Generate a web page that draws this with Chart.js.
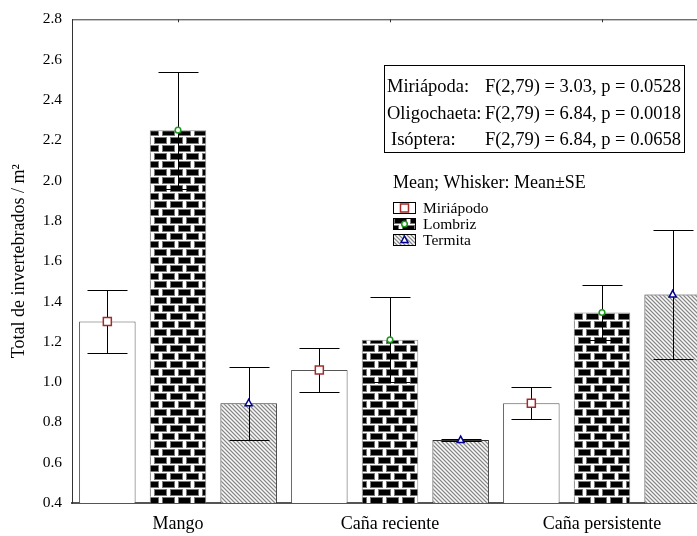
<!DOCTYPE html>
<html>
<head>
<meta charset="utf-8">
<script src="https://cdn.jsdelivr.net/npm/chart.js@4.4.0/dist/chart.umd.min.js"></script>
<style>
  body { margin: 0; background: #fff; }
  #wrap { width: 697px; height: 536px; overflow: hidden; }
</style>
</head>
<body>
<div id="wrap"><canvas id="chart" width="712" height="536"></canvas></div>
<script>
// Datos
const categories = ['Mango', 'Caña reciente', 'Caña persistente'];
const miriapodo = [1.30, 1.06, 0.895];
const miriapodoSE = [0.157, 0.11, 0.079];
const lombriz = [2.25, 1.21, 1.345];
const lombrizSE = [0.29, 0.21, 0.137];
const termita = [0.895, 0.712, 1.435];
const termitaSE = [0.182, 0.004, 0.32];
const yMin = 0.4, yMax = 2.8, yStep = 0.2;
const statLabels = ['Miriápoda:', 'Oligochaeta:', 'Isóptera:'];
const statValues = ['F(2,79) = 3.03, p = 0.0528', 'F(2,79) = 6.84, p = 0.0018', 'F(2,79) = 6.84, p = 0.0658'];

const serif = '"Liberation Serif", "Times New Roman", serif';
Chart.defaults.font.family = serif;
Chart.defaults.color = '#000';

// patrones
function brickPattern() {
  const c = document.createElement('canvas');
  c.width = 16; c.height = 16;
  const g = c.getContext('2d');
  g.fillStyle = '#fff';
  g.fillRect(0, 0, 16, 16);
  for (let r = 0; r < 2; r++) {
    const y0 = r * 8, off = r * 8;
    for (const dx of [off - 16, off]) {
      g.fillStyle = '#777';
      g.fillRect(dx + 2, y0 + 1, 13, 7);
      g.fillStyle = '#000';
      g.fillRect(dx + 3, y0 + 2, 11, 5);
    }
  }
  return g.createPattern(c, 'repeat');
}
function hatchPattern() {
  const c = document.createElement('canvas');
  c.width = 4; c.height = 4;
  const g = c.getContext('2d');
  const img = g.createImageData(4, 4);
  const shades = [135, 205, 250, 205];
  for (let y = 0; y < 4; y++) for (let x = 0; x < 4; x++) {
    const v = shades[(x - y + 8) % 4], k = (y * 4 + x) * 4;
    img.data[k] = img.data[k + 1] = img.data[k + 2] = v;
    img.data[k + 3] = 255;
  }
  g.putImageData(img, 0, 0);
  return g.createPattern(c, 'repeat');
}
const brick = brickPattern();
const hatch = hatchPattern();

const seLists = [miriapodoSE, lombrizSE, termitaSE];
const markers = [
  { shape: 'square', color: '#a52a2a' },
  { shape: 'circle', color: '#1a9a1a' },
  { shape: 'triangle', color: '#00008b' }
];

function drawMarker(ctx, m, x, y) {
  ctx.save();
  ctx.fillStyle = '#fff';
  ctx.strokeStyle = m.color;
  ctx.lineWidth = 1.5;
  ctx.beginPath();
  if (m.shape === 'square') ctx.rect(x - 4, y - 4, 8, 8);
  else if (m.shape === 'circle') ctx.arc(x, y, 2.8, 0, Math.PI * 2);
  else { ctx.moveTo(x, y - 4); ctx.lineTo(x + 3.5, y + 2.5); ctx.lineTo(x - 3.5, y + 2.5); ctx.closePath(); }
  ctx.fill();
  ctx.stroke();
  ctx.restore();
}

const overlay = {
  id: 'overlay',
  afterDatasetsDraw(chart) {
    const ctx = chart.ctx, area = chart.chartArea;
    const xs = chart.scales.x, ys = chart.scales.y;
    ctx.save();
    ctx.strokeStyle = '#333';
    ctx.lineWidth = 1;
    ctx.beginPath();
    ctx.moveTo(area.left, area.top + 0.5);
    ctx.lineTo(area.right, area.top + 0.5);
    categories.forEach((c, i) => {
      const px = Math.round(xs.getPixelForValue(i)) + 0.5;
      ctx.moveTo(px, area.top);
      ctx.lineTo(px, area.top + 3);
    });
    ctx.stroke();

    // bigotes
    ctx.strokeStyle = '#000';
    chart.data.datasets.forEach((ds, di) => {
      const meta = chart.getDatasetMeta(di);
      meta.data.forEach((bar, i) => {
        const cx = Math.round(bar.x) + 0.5;
        const hi = Math.round(ys.getPixelForValue(ds.data[i] + seLists[di][i])) + 0.5;
        const lo = Math.round(ys.getPixelForValue(ds.data[i] - seLists[di][i])) + 0.5;
        ctx.beginPath();
        ctx.moveTo(cx, hi); ctx.lineTo(cx, lo);
        ctx.moveTo(cx - 20, hi); ctx.lineTo(cx + 20, hi);
        ctx.moveTo(cx - 20, lo); ctx.lineTo(cx + 20, lo);
        ctx.stroke();
      });
    });
    chart.data.datasets.forEach((ds, di) => {
      chart.getDatasetMeta(di).data.forEach(bar => drawMarker(ctx, markers[di], bar.x, bar.y));
    });
    ctx.restore();
  },
  afterDraw(chart) {
    const ctx = chart.ctx;
    ctx.save();
    // cuadro de estadisticos
    ctx.strokeStyle = '#000';
    ctx.lineWidth = 1;
    ctx.strokeRect(384.5, 65.5, 300, 87);
    ctx.fillStyle = '#000';
    ctx.font = '18.5px ' + serif;
    ctx.textBaseline = 'middle';
    const rows = [87, 114, 140];
    statLabels.forEach((t, i) => {
      ctx.textAlign = 'left';
      ctx.fillText(t, i === 2 ? 391 : 387, rows[i]);
      ctx.textAlign = 'right';
      ctx.fillText(statValues[i], 681, rows[i]);
    });
    // leyenda
    ctx.textAlign = 'left';
    ctx.font = '18px ' + serif;
    ctx.fillText('Mean; Whisker: Mean±SE', 393, 183);
    ctx.font = '15.5px ' + serif;
    chart.data.datasets.forEach((ds, di) => {
      const cy = 208 + di * 16;
      ctx.fillStyle = ds.backgroundColor;
      ctx.fillRect(393, cy - 6, 23, 12);
      ctx.strokeStyle = '#000';
      ctx.strokeRect(393.5, cy - 5.5, 22, 11);
      drawMarker(ctx, markers[di], 404.5, cy);
      ctx.fillStyle = '#000';
      ctx.fillText(ds.label, 423, cy + 1);
    });
    ctx.restore();
  }
};

new Chart(document.getElementById('chart'), {
  type: 'bar',
  data: {
    labels: categories,
    datasets: [
      { label: 'Miriápodo', data: miriapodo, backgroundColor: '#fff', borderColor: '#555', borderWidth: 1 },
      { label: 'Lombriz', data: lombriz, backgroundColor: brick, borderColor: '#888', borderWidth: 1 },
      { label: 'Termita', data: termita, backgroundColor: hatch, borderColor: '#333', borderWidth: 1 }
    ]
  },
  options: {
    responsive: false,
    animation: false,
    devicePixelRatio: 1,
    layout: { padding: { top: 12, right: 4, left: 0, bottom: 0 } },
    datasets: { bar: { base: yMin, categoryPercentage: 1.0, barPercentage: 0.8 } },
    plugins: { legend: { display: false }, tooltip: { enabled: false } },
    scales: {
      x: {
        grid: { display: false, drawTicks: false },
        border: { display: true, color: '#555', width: 2 },
        ticks: { font: { size: 18 }, padding: 10, color: '#000' },
        afterFit: s => { s.height = 33; }
      },
      y: {
        min: yMin, max: yMax,
        grid: { display: false, drawTicks: false },
        border: { display: true, color: '#333', width: 1 },
        ticks: { stepSize: yStep, font: { size: 15.5 }, padding: 10, color: '#000', callback: v => v.toFixed(1) },
        title: { display: true, text: 'Total de invertebrados / m²', font: { size: 18 }, padding: { top: 8, bottom: 0 }, color: '#000' },
        afterFit: s => { s.width = 72; }
      }
    }
  },
  plugins: [overlay]
});
</script>
</body>
</html>
